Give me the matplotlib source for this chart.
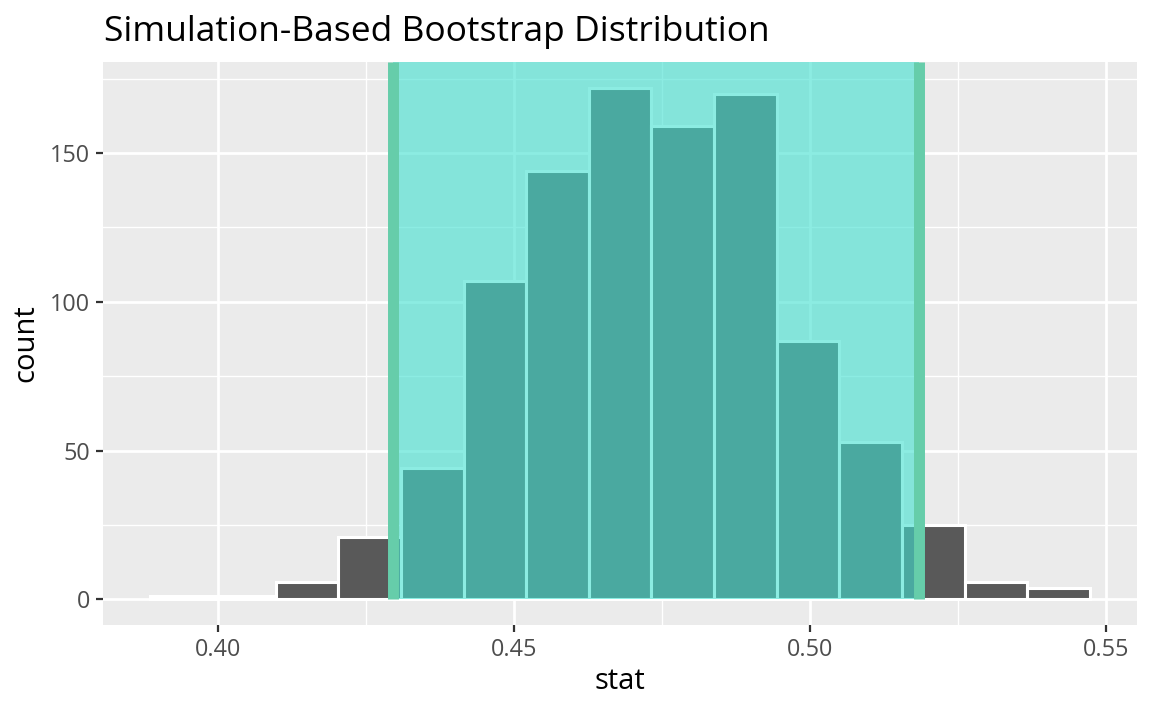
import numpy as np
import matplotlib
matplotlib.use("Agg")
import matplotlib.pyplot as plt
from matplotlib.ticker import MultipleLocator

# ---- data ----
bin_left = 0.38853
bin_width = 0.010589
counts = [1, 1, 6, 21, 44, 107, 144, 172, 159, 170, 87, 53, 25, 6, 4]
ci_lower = 0.42963
ci_upper = 0.51849
x_ticks = [0.40, 0.45, 0.50, 0.55]
x_tick_labels = ["0.40", "0.45", "0.50", "0.55"]
y_ticks = [0, 50, 100, 150]
title = "Simulation-Based Bootstrap Distribution"
xlab = "stat"
ylab = "count"

plt.rcParams['font.family'] = ['Open Sans', 'DejaVu Sans']

W, H = 1152, 711
fig = plt.figure(figsize=(W / 100, H / 100), dpi=100)
ax = fig.add_axes([103.3 / W, 1 - 625 / H, (1137 - 103.3) / W, (625 - 62) / H])
ax.set_facecolor('#EBEBEB')
for s in ax.spines.values():
    s.set_visible(False)

edges = bin_left + bin_width * np.arange(len(counts) + 1)
lefts = edges[:-1]
ax.bar(lefts, counts, width=bin_width, align='edge', color='#595959',
       edgecolor='white', linewidth=2.2, zorder=2)

xmin, xmax = edges[0], edges[-1]
xr = xmax - xmin
ax.set_xlim(xmin - 0.05 * xr, xmax + 0.05 * xr)
ymax_data = max(counts)
ax.set_ylim(-0.05 * ymax_data, ymax_data * 1.05)
top = ymax_data * 1.05

# CI shading
ax.fill_between([ci_lower, ci_upper], 0, top, color=(64/255, 224/255, 208/255),
                alpha=0.6, linewidth=0, zorder=3)
for v in (ci_lower, ci_upper):
    ax.plot([v, v], [0, top], color='#66CDAA', linewidth=7.9,
            solid_capstyle='butt', zorder=4)

# grid
ax.set_xticks(x_ticks)
ax.set_xticklabels(x_tick_labels)
ax.set_yticks(y_ticks)
ax.xaxis.set_minor_locator(MultipleLocator(0.025))
ax.yaxis.set_minor_locator(MultipleLocator(25))
ax.grid(which='major', color='white', linewidth=1.95, zorder=1)
ax.grid(which='minor', color='white', linewidth=0.98, zorder=1)
ax.set_axisbelow(True)

ax.tick_params(which='major', length=5.2, width=1.6, color='#333333',
               labelsize=16.8, labelcolor='#4D4D4D', pad=4.5)
ax.tick_params(which='minor', length=0)

ax.set_xlabel(xlab, fontsize=21, color='black', labelpad=3.5)
ax.set_ylabel(ylab, fontsize=21, color='black', labelpad=6.5)

fig.text(104 / W, 1 - 41 / H, title, fontsize=25.5, color='black',
         ha='left', va='baseline')

fig.savefig('out.png', dpi=100, facecolor='white')
